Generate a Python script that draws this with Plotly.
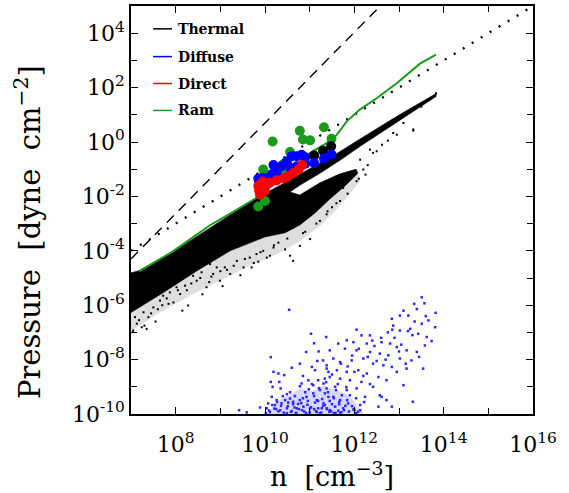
import numpy as np
import plotly.graph_objects as go

# ---------------- data (log10 values) ----------------
# Thermal: dense band outline (log10 n, log10 P) - upper narrow band, slit, lower band, wedge
therm_main_logn = [7.00, 7.18, 7.94, 8.77, 9.80, 10.34, 10.78, 11.23, 11.61, 12.01, 12.35, 12.69, 13.02, 13.36, 13.63, 13.83,
                   13.83, 13.58, 13.25, 12.91, 12.57, 12.13, 11.68, 11.23, 10.78, 10.56,
                   10.78, 11.23, 11.68, 12.04, 12.08, 11.79, 11.45, 11.12, 10.78, 10.45, 10.00, 9.22, 8.48, 7.72, 7.00]
therm_main_logp = [-4.81, -4.73, -4.04, -3.16, -2.06, -1.59, -1.18, -0.78, -0.42, -0.01, 0.32, 0.68, 1.01, 1.34, 1.60, 1.78,
                   1.67, 1.41, 1.05, 0.68, 0.32, -0.16, -0.67, -1.15, -1.59, -1.84,
                   -1.95, -1.50, -1.17, -1.00, -1.15, -1.62, -2.10, -2.61, -3.05, -3.34, -3.49, -4.00, -4.73, -5.54, -6.27]
therm_halo_logn = [7.00, 7.72, 8.48, 9.22, 10.00, 10.45, 10.78, 11.12, 11.45, 11.79, 12.08,
                   12.13, 11.68, 11.23, 10.78, 10.34, 9.66, 8.99, 8.32, 7.65, 7.00]
therm_halo_logp = [-6.27, -5.54, -4.73, -4.00, -3.49, -3.34, -3.05, -2.61, -2.10, -1.62, -1.15,
                   -1.44, -2.35, -3.09, -3.64, -4.07, -4.55, -5.10, -5.65, -6.27, -6.95]
# Thermal: sparse points
therm_pts_logn = [7.13, 7.09, 7.28, 7.39, 7.24, 7.05, 7.50, 7.65, 7.72, 7.87, 7.84, 8.10, 8.02, 8.28, 8.21, 8.47,
                  8.69, 8.39, 8.58, 8.84, 8.99, 8.92, 9.10, 9.22, 8.77, 9.37, 9.52, 9.70, 9.66, 9.81, 9.96, 10.11,
                  10.19, 10.30, 10.04, 10.63, 10.78, 10.56, 7.04, 7.35, 12.87, 13.32, 12.95, 12.50, 12.35, 12.13,
                  12.42, 12.20, 11.98, 12.05, 11.75, 11.68, 11.38, 11.23, 11.01, 10.63, 13.83, 13.32, 12.75, 12.62,
                  13.10, 13.50, 11.90, 12.30, 11.50, 10.90, 8.60, 9.05, 9.45, 7.55, 7.95, 8.15, 9.85, 10.45,
                  7.18, 7.45, 7.60, 7.80, 8.05, 8.35, 8.55, 8.80, 9.00, 9.30, 9.55, 9.90, 10.20, 10.50, 10.85,
                  11.15, 11.40, 11.60, 11.85, 12.10, 12.25, 7.30, 7.70, 8.25, 8.75, 9.15, 9.75]
therm_pts_logp = [-6.68, -6.44, -6.26, -6.44, -6.81, -6.93, -6.08, -5.83, -5.65, -5.53, -5.95, -5.59, -5.34, -6.01, -5.28, -5.10,
                  -5.34, -4.92, -4.79, -4.85, -5.10, -4.61, -4.61, -4.85, -4.49, -4.37, -4.61, -4.61, -4.25, -4.12, -4.00, -4.18,
                  -3.88, -3.70, -4.25, -4.37, -3.82, -4.18, -6.99, -6.87, 0.33, 0.42, 0.27, -0.34, -0.28, -0.65,
                  -0.40, -1.01, -1.07, -1.44, -1.69, -2.17, -2.66, -2.90, -3.57, -3.15, 1.79, 0.46, 0.05, -0.10,
                  0.70, 1.30, -1.30, -0.85, -2.40, -3.30, -5.60, -5.30, -4.90, -6.60, -5.90, -6.20, -4.40, -3.95,
                  -6.55, -6.30, -6.15, -5.75, -5.45, -5.20, -5.00, -4.95, -4.75, -4.55, -4.30, -4.05, -3.80, -3.55, -3.35,
                  -3.00, -2.55, -2.25, -1.90, -1.35, -1.20, -6.75, -6.00, -5.45, -5.15, -4.70, -4.45]

# Diffuse: sparse points
diff_logn = [13.51, 13.57, 13.34, 13.40, 13.82, 13.02, 12.84, 13.21, 13.66, 13.51, 13.81, 12.87, 13.02, 13.25, 13.43, 13.62,
             13.73, 11.37, 12.05, 12.16, 12.35, 11.83, 11.64, 11.98, 12.28, 12.61, 12.80, 12.95, 13.17, 13.40, 13.58, 11.45,
             11.79, 12.05, 12.35, 12.57, 12.76, 13.02, 13.28, 13.54, 13.17, 12.95, 11.30, 11.53, 11.68, 11.94, 12.20, 12.42,
             12.65, 12.84, 11.38, 11.61, 11.83, 12.09, 12.28, 12.54, 12.72, 13.10, 11.45, 11.68, 11.90, 12.16, 12.42, 11.31,
             11.57, 11.83, 12.05, 12.24, 12.61, 12.72, 12.54, 12.84, 13.31, 12.57, 10.54, 11.03, 10.92, 10.13, 10.78, 10.19,
             10.30, 10.43, 11.17, 11.05, 11.12, 11.38, 11.42, 10.13, 10.32, 10.97, 11.19, 11.34, 10.82, 11.08, 10.17, 10.35,
             10.49, 10.56, 10.15, 10.26, 10.07, 10.22, 10.37, 10.63, 10.78, 10.93, 11.08, 11.23, 11.38, 11.16, 11.31, 10.86,
             10.71, 10.49, 10.04, 9.89, 9.42, 9.59, 11.01, 11.19, 11.38, 11.42, 11.34, 11.53, 11.68, 11.86, 12.13, 11.57,
             11.75, 11.98, 11.27, 11.45, 11.64,
             10.45, 10.51, 10.60, 10.67, 10.74, 10.83, 10.90, 10.96, 11.03, 11.10, 11.16, 11.21, 11.28, 11.34, 11.41, 11.48,
             11.54, 11.59, 11.66, 11.72, 11.77, 11.84, 10.56, 10.78, 11.05, 11.37, 11.63, 10.69, 10.92, 11.23, 11.54, 10.34,
             10.40, 10.25, 10.11, 11.90, 11.95, 12.04, 11.82, 10.98, 11.19, 11.45, 10.85, 10.63, 11.68, 11.39, 11.10, 10.76,
             10.49, 10.27, 10.16, 10.02, 12.13, 12.22, 12.04,
             11.95, 12.10, 12.30, 12.45, 12.60, 12.75, 12.90, 13.05, 13.20, 13.35, 13.10, 12.85, 12.50, 12.20, 11.85,
             11.50, 11.20, 12.40, 12.70, 13.00, 13.30, 13.60, 13.45, 13.15, 12.35, 12.00, 11.70, 11.10, 10.85, 10.60,
             10.30, 10.42, 10.58, 10.70, 10.88, 11.00, 11.14, 11.26, 11.44, 11.58, 11.71, 11.88, 10.36, 10.52, 10.66,
             10.81, 10.95, 11.12, 11.30, 11.50, 11.66, 11.80, 10.09, 10.21, 12.00, 12.08]
diff_logp = [-5.71, -5.93, -5.95, -6.14, -6.28, -6.38, -6.50, -6.38, -6.56, -6.68, -6.81, -6.75, -6.93, -6.87, -7.05, -7.17,
             -7.32, -7.17, -6.90, -7.11, -7.11, -7.29, -7.41, -7.36, -7.41, -7.36, -7.41, -7.54, -7.66, -7.72, -7.48, -7.66,
             -7.60, -7.66, -7.72, -7.78, -7.84, -7.96, -8.03, -8.33, -8.33, -8.45, -8.03, -7.96, -8.09, -8.03, -7.96, -8.15,
             -8.21, -8.27, -8.33, -8.39, -8.45, -8.39, -8.51, -8.64, -8.76, -8.94, -8.64, -8.70, -8.76, -8.82, -9.00, -8.88,
             -9.00, -9.12, -9.06, -9.37, -9.37, -9.49, -9.73, -9.73, -9.55, -9.31, -6.17, -7.05, -7.72, -7.91, -8.15, -8.45,
             -8.51, -8.57, -8.05, -8.27, -8.39, -8.21, -8.45, -8.82, -8.82, -8.76, -8.76, -8.70, -8.88, -8.94, -9.00, -9.06,
             -9.27, -9.43, -9.37, -9.49, -9.61, -9.67, -9.61, -9.55, -9.49, -9.37, -9.24, -9.12, -9.06, -9.49, -9.61, -9.73,
             -9.79, -9.79, -9.79, -9.76, -9.86, -9.94, -9.79, -9.79, -9.79, -9.37, -9.24, -9.37, -9.49, -9.61, -9.67, -9.73,
             -9.79, -9.83, -9.79, -9.86, -9.88,
             -9.49, -9.71, -9.89, -9.34, -9.63, -9.86, -9.20, -9.52, -9.75, -9.34, -9.93, -9.05, -9.45, -9.67, -9.20, -9.90,
             -9.42, -9.12, -9.64, -9.31, -9.86, -9.49, -9.20, -8.98, -8.90, -8.83, -8.90, -9.97, -9.97, -9.97, -9.97, -9.86,
             -9.34, -9.82, -9.93, -9.31, -9.71, -9.42, -9.01, -9.09, -9.52, -9.52, -9.42, -9.64, -9.97, -9.82, -9.82, -9.82,
             -9.97, -9.56, -9.67, -9.97, -9.86, -9.56, -9.97,
             -7.85, -7.60, -7.90, -7.50, -7.20, -7.00, -7.20, -7.45, -6.95, -6.60, -6.20, -6.90, -8.05, -8.60, -8.25,
             -8.55, -7.70, -7.30, -8.00, -7.70, -7.10, -6.40, -7.90, -8.15, -8.90, -8.45, -8.15, -7.40, -8.60, -8.30,
             -9.90, -9.95, -9.92, -9.96, -9.91, -9.94, -9.90, -9.95, -9.92, -9.96, -9.93, -9.91, -9.70, -9.58, -9.76,
             -9.60, -9.66, -9.58, -9.70, -9.64, -9.56, -9.70, -9.87, -9.80, -9.85, -9.92]

# Dense core of the diffuse cloud (outline)
diff_core_logn = [10.05, 10.20, 10.35, 10.55, 10.80, 11.05, 11.30, 11.55, 11.80, 11.95, 12.10, 12.20]
diff_core_logp = [-10.00, -9.70, -9.45, -9.30, -9.05, -9.15, -8.95, -9.10, -9.25, -9.45, -9.75, -10.00]

# Ram pressure curve
ram_logn = [7.18, 7.94, 8.32, 8.77, 9.40, 9.81, 10.30, 10.80, 11.01, 11.38, 11.61, 11.83, 12.13, 12.50, 12.95, 13.47, 13.70, 13.83]
ram_logp = [-4.76, -4.02, -3.58, -3.06, -2.46, -2.05, -1.40, -0.70, -0.40, -0.04, 0.27, 0.76, 1.20, 1.61, 2.16, 2.88, 3.10, 3.21]

# Circles (cloud-averaged values)
ram_c_logn = [10.17, 10.78, 10.85, 11.01, 11.32, 11.49, 10.56, 10.45, 9.96, 10.37, 9.85, 10.00, 9.89, 10.40, 10.05]
ram_c_logp = [0.02, 0.41, 0.09, 0.06, 0.54, 0.12, -0.37, -0.77, -1.01, -1.14, -2.37, -2.17, -1.93, -0.83, -1.56]
therm_c_logn = [11.48, 11.30, 11.10]
therm_c_logp = [-0.16, -0.32, -0.50]
diff_c_logn = [11.49, 11.32, 11.10, 10.90, 10.71, 10.60, 10.49, 10.37, 10.19, 10.26, 10.15, 10.06, 9.94, 9.85, 10.90, 10.71, 10.56, 10.82, 9.87]
diff_c_logp = [-0.46, -0.61, -0.77, -0.56, -0.52, -0.52, -0.71, -0.89, -0.85, -1.14, -1.19, -1.32, -1.32, -1.34, -0.80, -0.89, -0.95, -0.47, -1.45]
dir_c_logn = [9.85, 9.87, 9.89, 9.92, 10.00, 10.11, 10.26, 10.41, 10.52, 10.63, 10.75, 10.83, 10.00, 9.95]
dir_c_logp = [-1.62, -1.78, -1.93, -1.70, -1.56, -1.50, -1.41, -1.34, -1.26, -1.14, -1.01, -0.85, -1.80, -1.45]

# Reference power laws: (log n endpoints, log P endpoints)
dash_logn = [7.0, 12.8]
dash_logp = [-4.3, -4.3 + 5.0 / 3.0 * 5.8]
dot_logn = [7.0, 16.0]
dot_logp = [-4.0, 5.0]

legend_names = ["Thermal", "Diffuse", "Direct", "Ram"]
legend_colors = ["black", "blue", "red", "#1a9a1a"]

xtick_major = [8, 10, 12, 14, 16]
xtick_minor = [7, 9, 11, 13, 15]
ytick_major = [-10, -8, -6, -4, -2, 0, 2, 4]
ytick_minor = [-9, -7, -5, -3, -1, 1, 3, 5]

GREEN = "#1a9a1a"
FONT = "DejaVu Serif"


def p10(a):
    return np.power(10.0, np.asarray(a, dtype=float))


fig = go.Figure()

# halo of medium-density thermal points
fig.add_trace(go.Scatter(x=p10(therm_halo_logn), y=p10(therm_halo_logp), mode="lines", fill="toself",
                         fillcolor="rgba(0,0,0,0.13)", line=dict(width=0), hoverinfo="skip"))
fig.add_trace(go.Scatter(x=p10(therm_pts_logn), y=p10(therm_pts_logp), mode="markers",
                         marker=dict(symbol="square", size=2, color="black", line=dict(width=0))))
fig.add_trace(go.Scatter(x=p10(therm_main_logn), y=p10(therm_main_logp), mode="lines", fill="toself",
                         fillcolor="black", line=dict(width=0.6, color="black")))
# diffuse cloud
fig.add_trace(go.Scatter(x=p10(diff_core_logn), y=p10(diff_core_logp), mode="lines", fill="toself",
                         fillcolor="rgba(40,40,255,0.18)", line=dict(width=0), hoverinfo="skip"))
fig.add_trace(go.Scatter(x=p10(diff_logn), y=p10(diff_logp), mode="markers",
                         marker=dict(symbol="square", size=2.5, color="rgb(40,40,255)", line=dict(width=0))))

# power-law guides
fig.add_trace(go.Scatter(x=p10(dash_logn), y=p10(dash_logp), mode="lines",
                         line=dict(color="black", width=1.4, dash="10px,7px")))
fig.add_trace(go.Scatter(x=p10(dot_logn), y=p10(dot_logp), mode="lines",
                         line=dict(color="black", width=2.3, dash="2px,8.5px")))

# Ram curve
fig.add_trace(go.Scatter(x=p10(ram_logn), y=p10(ram_logp), mode="lines", line=dict(color=GREEN, width=2)))

# circles
for lx, lp, col in [(ram_c_logn, ram_c_logp, GREEN), (therm_c_logn, therm_c_logp, "black"),
                    (diff_c_logn, diff_c_logp, "blue"), (dir_c_logn, dir_c_logp, "red")]:
    fig.add_trace(go.Scatter(x=p10(lx), y=p10(lp), mode="markers",
                             marker=dict(symbol="circle", size=10, color=col, line=dict(width=0))))

# legend (manual, IDL style)
leg_y = [0.944, 0.876, 0.810, 0.744]
for name, col, yy in zip(legend_names, legend_colors, leg_y):
    fig.add_shape(type="line", xref="paper", yref="paper", x0=0.055, x1=0.102, y0=yy, y1=yy,
                  line=dict(color=col, width=1.5))
    fig.add_annotation(xref="paper", yref="paper", x=0.112, y=yy, text="<b>" + name + "</b>",
                       showarrow=False, xanchor="left", yanchor="middle",
                       font=dict(family=FONT, size=14, color="black"))

# y-axis title
fig.add_annotation(xref="paper", yref="paper", x=-0.256, y=0.446, text="Pressure  [dyne  cm<sup>−2</sup>]",
                   textangle=-90, showarrow=False, xanchor="center", yanchor="middle",
                   font=dict(family=FONT, size=29, color="black"))

axis_common = dict(type="log", showgrid=False, zeroline=False, showline=True, linecolor="black", linewidth=1.5,
                   mirror="allticks", ticks="inside", ticklen=7, tickwidth=1.2, tickcolor="black",
                   tickfont=dict(family=FONT, size=22, color="black"))

fig.update_xaxes(range=[7, 16], tickvals=p10(xtick_major), ticktext=["10<sup>%d</sup>" % e for e in xtick_major],
                 minor=dict(tickvals=p10(xtick_minor), ticks="inside", ticklen=6, tickwidth=1.2, tickcolor="black"),
                 ticklabelstandoff=10,
                 title=dict(text="n  [cm<sup>−3</sup>]", font=dict(family=FONT, size=27, color="black"), standoff=10),
                 **axis_common)
fig.update_yaxes(range=[-10, 5], tickvals=p10(ytick_major), ticktext=["10<sup>%d</sup>" % e for e in ytick_major],
                 minor=dict(tickvals=p10(ytick_minor), ticks="inside", ticklen=6, tickwidth=1.2, tickcolor="black"),
                 **axis_common)

fig.update_layout(width=569, height=493, margin=dict(l=131, r=36, t=4, b=79),
                  paper_bgcolor="white", plot_bgcolor="white", showlegend=False)

fig.write_html("out.html")
